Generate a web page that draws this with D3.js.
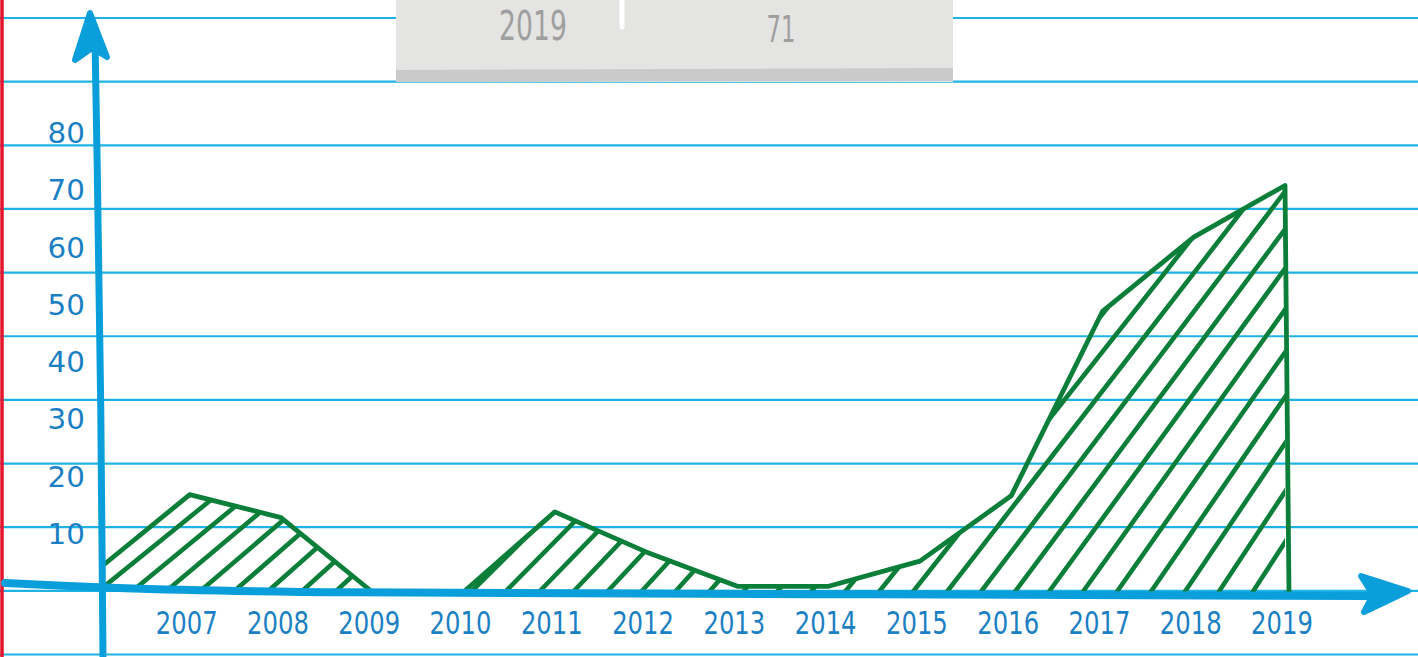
<!DOCTYPE html>
<html>
<head>
<meta charset="utf-8">
<script src="https://cdn.jsdelivr.net/npm/d3@7"></script>
<style>
  html, body { margin: 0; padding: 0; background: #fff; overflow: hidden; }
  svg { display: block; }
  .lbl { font-family: "DejaVu Sans", sans-serif; }
</style>
</head>
<body>
<div id="chart"></div>
<script>
// data (2006 point sits behind the y axis, only its slope shows)
const years = [2006, 2007, 2008, 2009, 2010, 2011, 2012, 2013, 2014, 2015, 2016, 2017, 2018, 2019];
const values = [4, 17, 13, 0, 0, 14, 7, 1, 1, 5.4, 16.8, 49, 62, 71];
const xTickLabels = ['2007', '2008', '2009', '2010', '2011', '2012', '2013', '2014', '2015', '2016', '2017', '2018', '2019'];
const yTickValues = [10, 20, 30, 40, 50, 60, 70, 80];

const W = 1418, H = 657;
const green = '#0b7f3a', axisBlue = '#0a9fdb', labelBlue = '#1b7fc4', paperBlue = '#1fb3e4';

const svg = d3.select('#chart').append('svg')
    .attr('width', W)
    .attr('height', H);

const x = d3.scaleLinear().domain([2008, 2019]).range([281, 1285]);
const y = d3.scaleLinear().domain([0, 80]).range([592, 134]);
const axisX = 101;

// notebook paper
svg.selectAll('line.paper')
    .data(d3.range(0, 11))
    .enter()
    .append('line')
    .attr('class', 'paper')
    .attr('x1', 0).attr('x2', W)
    .attr('y1', k => 18 + k * 63.65)
    .attr('y2', k => 18 + k * 63.65)
    .attr('stroke', paperBlue)
    .attr('stroke-width', 2.2);

svg.append('line')
    .attr('x1', 2).attr('x2', 2)
    .attr('y1', 0).attr('y2', H)
    .attr('stroke', '#e3142b')
    .attr('stroke-width', 3.5);

// area + hatching
const data = years.map((yr, i) => ({ year: yr, value: values[i] }));

const area = d3.area()
    .x(d => x(d.year))
    .y0(y(0))
    .y1(d => y(d.value));

const line = d3.line()
    .x(d => x(d.year))
    .y(d => y(d.value));

svg.append('clipPath').attr('id', 'plot')
    .append('rect')
    .attr('x', axisX).attr('y', 0)
    .attr('width', W).attr('height', H);

svg.append('clipPath').attr('id', 'areaClip')
    .append('path')
    .attr('d', area(data));

const g = svg.append('g').attr('clip-path', 'url(#plot)');

const hatch = g.append('g').attr('clip-path', 'url(#areaClip)');
d3.range(62, 1300, 34).forEach(b => {
    // hand drawn hatch gets steeper towards the right
    const ang = (39 + 18 * Math.max(0, Math.min(1, (b - 100) / 1150))) * Math.PI / 180;
    const L = 600;
    hatch.append('line')
        .attr('x1', b).attr('y1', y(0) + 1)
        .attr('x2', b + L * Math.cos(ang))
        .attr('y2', y(0) + 1 - L * Math.sin(ang))
        .attr('stroke', green)
        .attr('stroke-width', 4.6)
        .attr('stroke-linecap', 'round');
});

const last = data[data.length - 1];
g.append('path')
    .attr('d', line(data) + `L${x(last.year) + 4},${y(0) + 2}`)
    .attr('fill', 'none')
    .attr('stroke', green)
    .attr('stroke-width', 4.8)
    .attr('stroke-linejoin', 'round');

// axes, slightly wobbly like a marker
const curve = d3.line().curve(d3.curveBasis);

svg.append('path')
    .attr('d', curve([[5, y(0) - 9], [axisX, y(0) - 4], [300, y(0) + 1], [800, y(0) + 2], [1370, y(0) + 4]]))
    .attr('fill', 'none')
    .attr('stroke', axisBlue)
    .attr('stroke-width', 8)
    .attr('stroke-linecap', 'round');

svg.append('path')
    .attr('d', `M1408,${y(0) - 1}L1361,${y(0) - 16}L1373,${y(0) + 3}L1364,${y(0) + 20}Z`)
    .attr('fill', axisBlue)
    .attr('stroke', axisBlue)
    .attr('stroke-width', 6)
    .attr('stroke-linejoin', 'round');

svg.append('path')
    .attr('d', curve([[axisX + 2, H + 5], [axisX, 400], [axisX - 4, 150], [axisX - 6, 40]]))
    .attr('fill', 'none')
    .attr('stroke', axisBlue)
    .attr('stroke-width', 7)
    .attr('stroke-linecap', 'round');

svg.append('path')
    .attr('d', 'M90,13L75,60L92,48L107,57Z')
    .attr('fill', axisBlue)
    .attr('stroke', axisBlue)
    .attr('stroke-width', 6)
    .attr('stroke-linejoin', 'round');

// tick labels (squeezed a bit to look like the narrow hand lettering)
svg.selectAll('text.ylbl')
    .data(yTickValues)
    .enter()
    .append('text')
    .attr('class', 'lbl ylbl')
    .attr('transform', d => `translate(85,${y(d) + 9}) scale(1.05,1)`)
    .attr('text-anchor', 'end')
    .attr('font-size', 28)
    .attr('fill', labelBlue)
    .text(d => d);

svg.selectAll('text.xlbl')
    .data(xTickLabels)
    .enter()
    .append('text')
    .attr('class', 'lbl xlbl')
    .attr('transform', d => `translate(${x(+d) - 3},634) scale(0.76,1.02)`)
    .attr('text-anchor', 'middle')
    .attr('font-size', 32)
    .attr('fill', labelBlue)
    .text(d => d);

// tooltip for the last point
const tip = svg.append('g');
tip.append('rect')
    .attr('x', 396).attr('y', -5)
    .attr('width', 557).attr('height', 87)
    .attr('fill', '#e4e4e3');
tip.append('path')
    .attr('d', 'M396,70L953,68L953,81L396,82Z')
    .attr('fill', '#cbcaca');
tip.append('line')
    .attr('x1', 622).attr('x2', 622)
    .attr('y1', -5).attr('y2', 27)
    .attr('stroke', '#fff')
    .attr('stroke-width', 5)
    .attr('stroke-linecap', 'round');
tip.append('text')
    .attr('class', 'lbl')
    .attr('transform', 'translate(533,40) scale(0.65,1)')
    .attr('text-anchor', 'middle')
    .attr('font-size', 41)
    .attr('fill', '#9f9f9f')
    .text(last.year);
tip.append('text')
    .attr('class', 'lbl')
    .attr('transform', 'translate(781,42) scale(0.6,1)')
    .attr('text-anchor', 'middle')
    .attr('font-size', 38)
    .attr('fill', '#9f9f9f')
    .text(last.value);
</script>
</body>
</html>
